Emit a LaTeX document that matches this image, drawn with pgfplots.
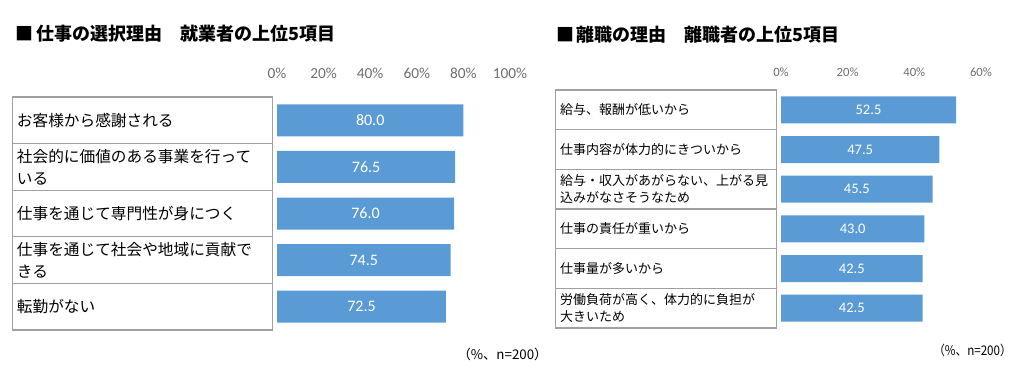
\documentclass[border=0pt]{standalone}
\usepackage{fontspec}
\setmainfont{Carlito}
\newfontfamily\jp{Noto Sans CJK JP}
\usepackage{pgfplots}
\usepackage{pgfplotstable}
\pgfplotsset{compat=1.18}
\definecolor{barblue}{HTML}{5B9BD5}
\definecolor{boxgray}{HTML}{A0A0A0}
\definecolor{tickgray}{HTML}{6E6E6E}

\pgfplotstableread{
y x lab
1 80.0 80.0
2 76.5 76.5
3 76.0 76.0
4 74.5 74.5
5 72.5 72.5
}\leftdata

\pgfplotstableread{
y x lab
1 52.5 52.5
2 47.5 47.5
3 45.5 45.5
4 43.0 43.0
5 42.5 42.5
6 42.5 42.5
}\rightdata

\pgfplotsset{panel/.style={
  scale only axis,
  axis line style={draw=none},
  major tick length=0pt,
  xticklabel pos=right,
  y dir=reverse,
  ymin=0.5, xmin=0,
  clip=false,
  xbar,
}}

\begin{document}
\begin{tikzpicture}
\useasboundingbox (0,0) rectangle (768pt,-282pt);

% titles
\node[anchor=west, font=\jp\bfseries\fontsize{13.5}{16}\selectfont, inner sep=0pt] at (11.6pt,-25.1pt) {■\hspace{2pt}仕事の選択理由　就業者の上位5項目};
\node[anchor=west, font=\jp\bfseries\fontsize{13.5}{16}\selectfont, inner sep=0pt] at (417pt,-25.9pt) {■\hspace{2pt}離職の理由　離職者の上位5項目};

% left panel
\begin{axis}[panel,
  at={(207.75pt,-247.5pt)}, anchor=south west,
  width=174.75pt, height=174.75pt,
  xmax=100, ymax=5.5,
  xtick={0,20,40,60,80,100},
  xticklabels={0\%,20\%,40\%,60\%,80\%,100\%},
  xticklabel style={font=\fontsize{11.5}{13}\selectfont, text=tickgray, anchor=center, yshift=18pt},
  ytick={1,2,3,4,5},
  yticklabels={{お客様から感謝される},{社会的に価値のある事業を行って\\いる},{仕事を通じて専門性が身につく},{仕事を通じて社会や地域に貢献で\\きる},{転勤がない}},
  yticklabel style={draw=boxgray, line width=1pt, text width=188pt, minimum height=34.95pt, align=left, anchor=east, inner xsep=3.5pt, inner ysep=0pt, xshift=-3pt, font=\jp\fontsize{11.75}{16.3}\selectfont},
  bar width=24pt,
]
\addplot[fill=barblue, draw=none,
  nodes near coords, point meta=explicit symbolic,
  visualization depends on={rawx \as \rawx},
  nodes near coords style={anchor=center, text=white, font=\fontsize{12}{14}\selectfont, shift={(axis direction cs:-\rawx/2,0)}}]
  table[x=x,y=y,meta=lab]{\leftdata};
\end{axis}

% right panel
\begin{axis}[panel,
  at={(585.75pt,-246pt)}, anchor=south west,
  width=150pt, height=178.5pt,
  xmax=60, ymax=6.5,
  xtick={0,20,40,60},
  xticklabels={0\%,20\%,40\%,60\%},
  xticklabel style={font=\fontsize{9.5}{11}\selectfont, text=tickgray, anchor=center, yshift=13.5pt},
  ytick={1,2,3,4,5,6},
  yticklabels={{給与、報酬が低いから},{仕事内容が体力的にきついから},{給与・収入があがらない、上がる見\\込みがなさそうなため},{仕事の責任が重いから},{仕事量が多いから},{労働負荷が高く、体力的に負担が\\大きいため}},
  yticklabel style={draw=boxgray, line width=1pt, text width=158.75pt, minimum height=29.75pt, align=left, anchor=east, inner xsep=3.5pt, inner ysep=0pt, xshift=-3pt, font=\jp\fontsize{9.75}{12.5}\selectfont},
  bar width=20.25pt,
]
\addplot[fill=barblue, draw=none,
  nodes near coords, point meta=explicit symbolic,
  visualization depends on={rawx \as \rawx},
  nodes near coords style={anchor=center, text=white, font=\fontsize{10.9}{13}\selectfont, shift={(axis direction cs:-\rawx/2,0)}}]
  table[x=x,y=y,meta=lab]{\rightdata};
\end{axis}

% footnotes
\node[font=\jp\fontsize{10}{12}\selectfont, inner sep=0pt] at (376.9pt,-265.5pt) {（\%、n=200）};
\node[font=\jp\fontsize{10}{12}\selectfont, inner sep=0pt, transform shape, xscale=0.87] at (729.4pt,-262.5pt) {（\%、n=200）};
\end{tikzpicture}
\end{document}
